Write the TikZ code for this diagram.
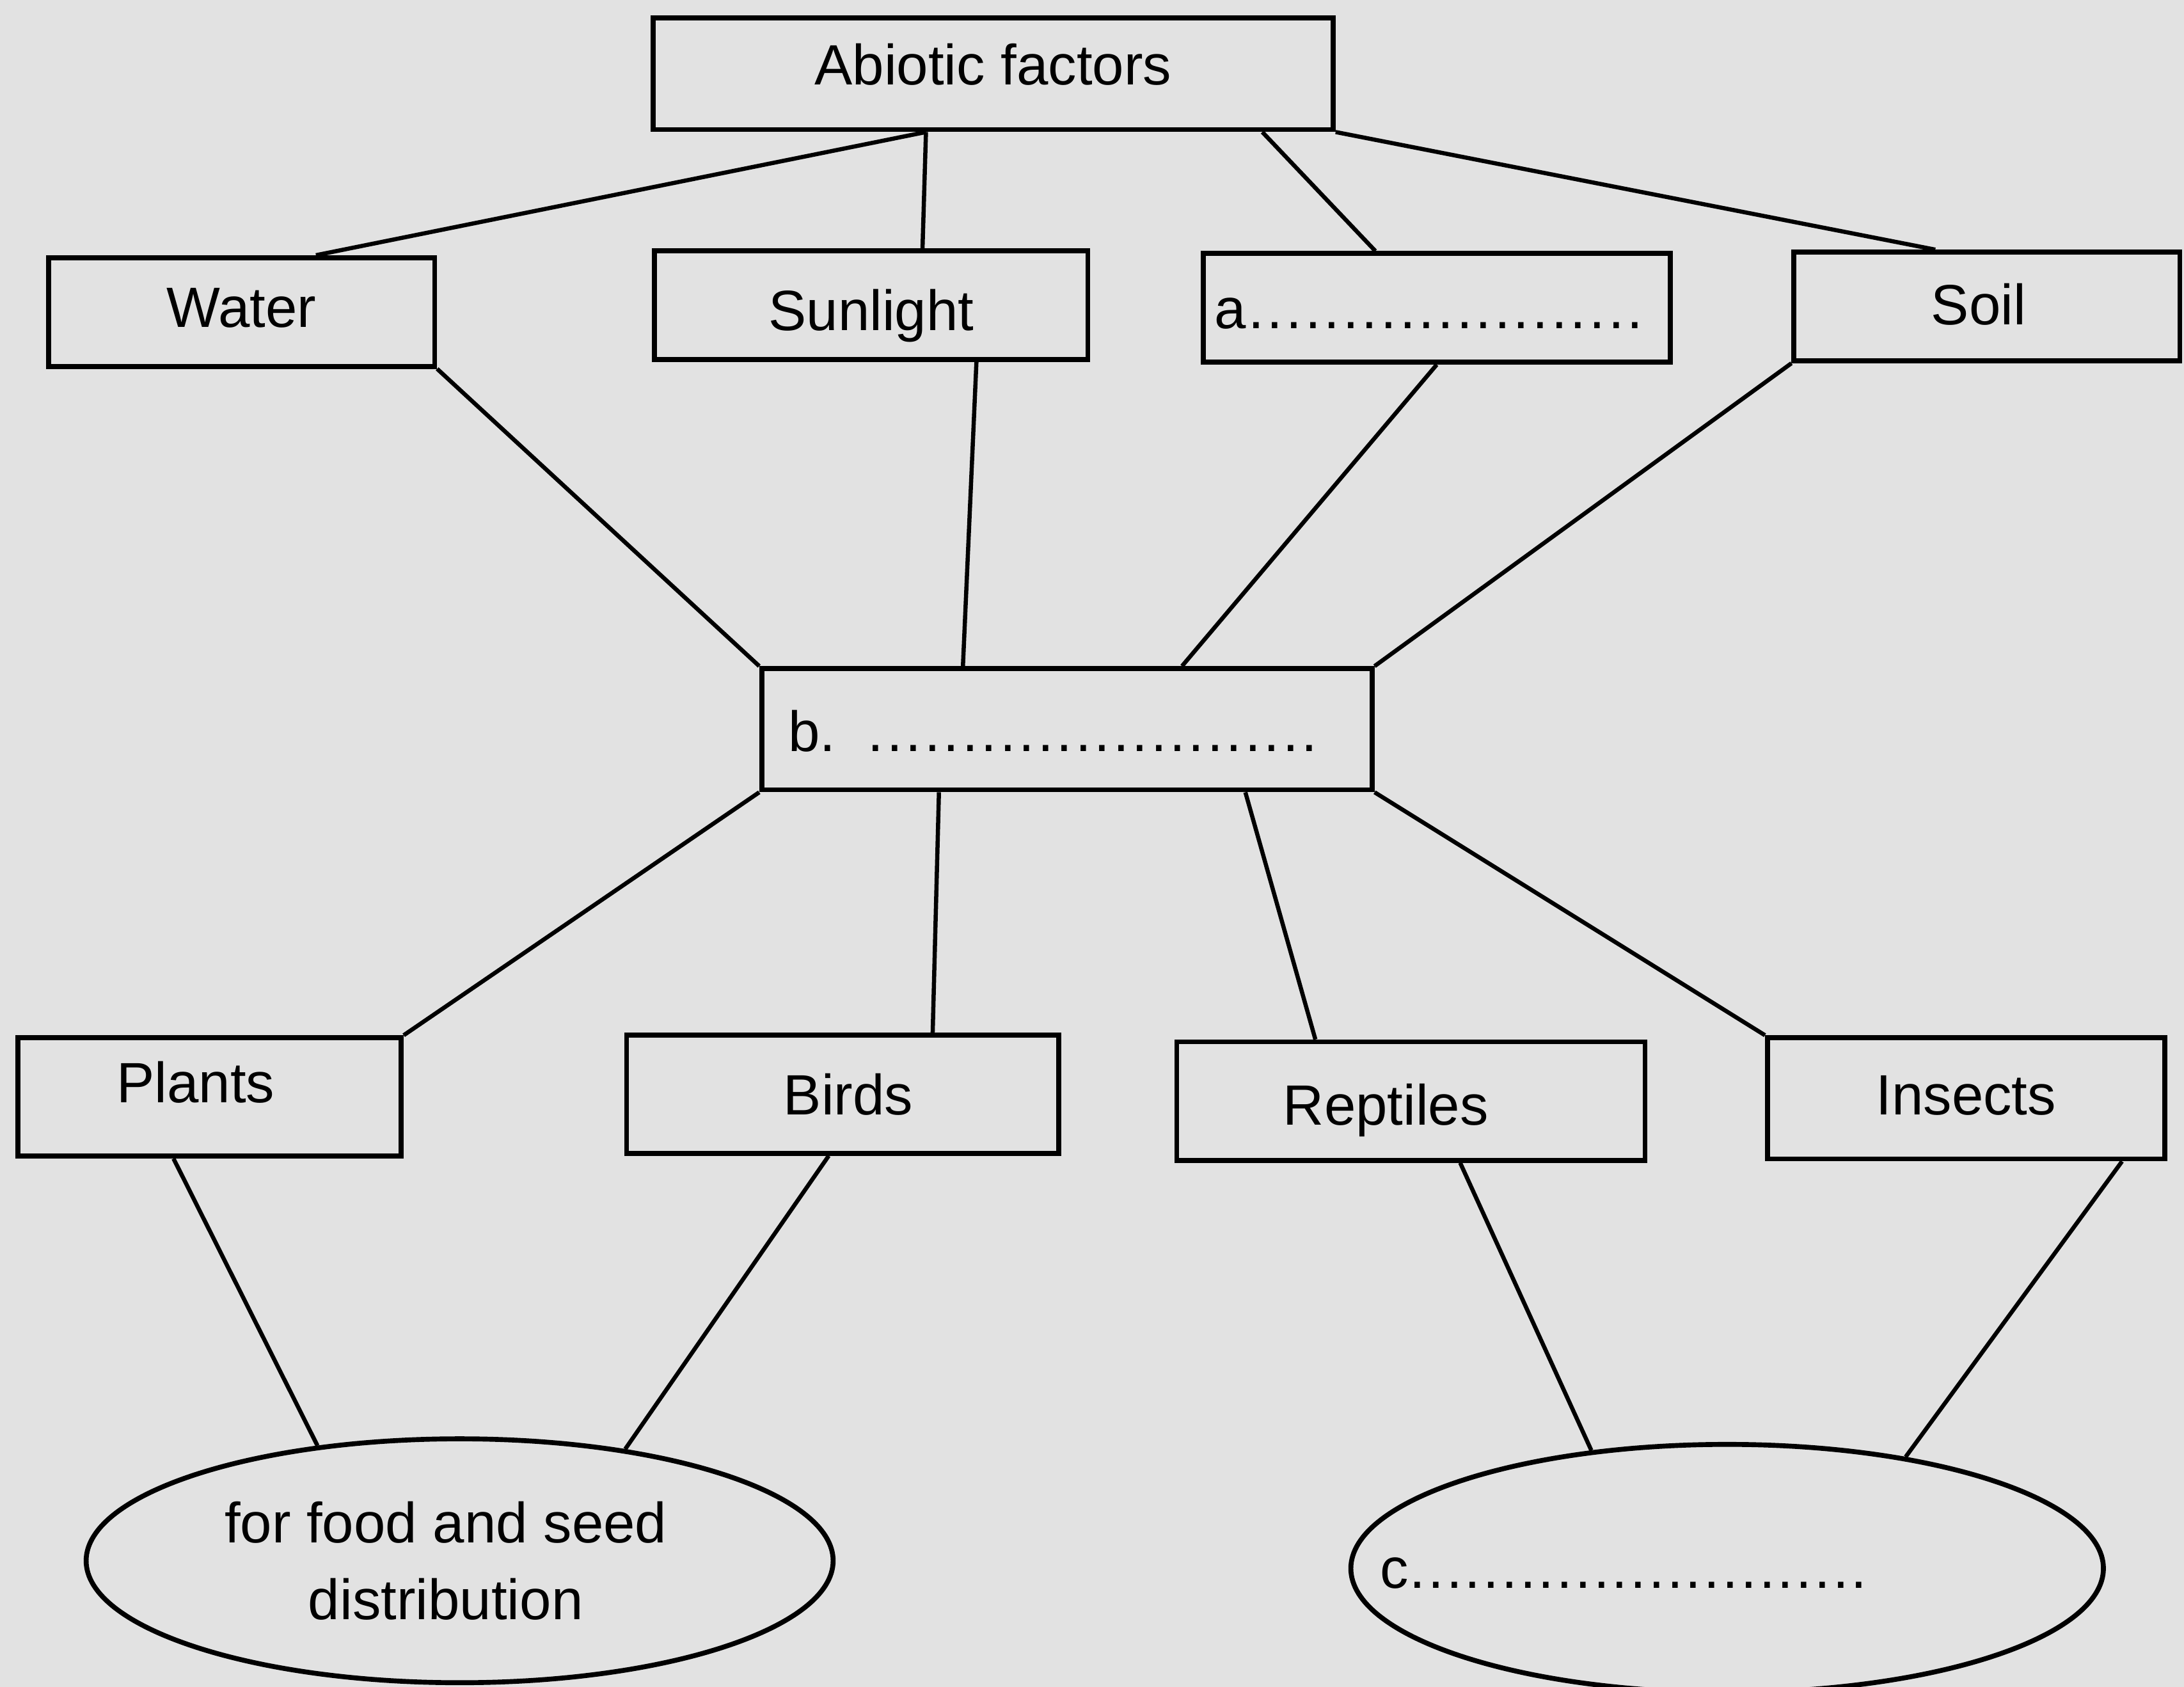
\documentclass[tikz,border=0pt]{standalone}
\usepackage{fontspec}
\setmainfont{Liberation Sans}
\usetikzlibrary{shapes.geometric,calc}
\definecolor{bgcol}{RGB}{226,226,226}
\newcommand{\diagfont}{\fontsize{11.6}{15.65}\selectfont}
\newcommand{\dotrow}[1]{\hbox to #1{\xleaders\hbox to 0.13cm{\hss.\hss}\hfill}}
\begin{document}
\begin{tikzpicture}[x=0.01cm,y=-0.01cm,
  box/.style={draw=black,line width=1pt,rectangle,inner sep=0pt,font=\diagfont,text depth=0pt},
  oval/.style={draw=black,line width=1pt,ellipse,inner sep=0pt,font=\diagfont,align=center},
  link/.style={draw=black,line width=0.85pt}]
\fill[bgcol] (0,0) rectangle (1568,1211);
\useasboundingbox (0,0) rectangle (1568,1211);

% top level
\node[box,minimum width=4.88cm,minimum height=0.80cm,text height=0.16cm] (abiotic) at (713,53) {Abiotic factors};

% abiotic factors
\node[box,minimum width=2.77cm,minimum height=0.78cm,text height=0.22cm] (water) at (173.5,224) {Water};
\node[box,minimum width=3.11cm,minimum height=0.78cm,text height=0.36cm] (sunlight) at (625.5,219) {Sunlight};
\node[box,minimum width=3.35cm,minimum height=0.78cm,text height=0.30cm] (afac) at (1031.5,221) {a\dotrow{2.86cm}\hspace*{0.1cm}\null};
\node[box,minimum width=2.77cm,minimum height=0.78cm,text height=0.26cm] (soil) at (1426.5,220) {Soil\hspace*{0.12cm}\null};

% centre
\node[box,minimum width=4.38cm,minimum height=0.87cm,text height=0.32cm] (bfac) at (766,523.5) {b.\hspace{0.22cm}\dotrow{3.25cm}\hspace*{0.19cm}\null};

% organisms
\node[box,minimum width=2.75cm,minimum height=0.85cm,text height=0.08cm] (plants) at (150.5,787.5) {Plants\hspace*{0.2cm}\null};
\node[box,minimum width=3.10cm,minimum height=0.85cm,text height=0.30cm] (birds) at (605,785.5) {\null\hspace*{0.08cm}Birds};
\node[box,minimum width=3.36cm,minimum height=0.85cm,text height=0.34cm] (reptiles) at (1013,790.5) {Reptiles\hspace*{0.36cm}\null};
\node[box,minimum width=2.85cm,minimum height=0.87cm,text height=0.24cm] (insects) at (1411.5,788.5) {Insects};

% ellipses
\node[oval,minimum width=5.36cm,minimum height=1.75cm] (food) at (330,1120.5) {for food and seed\hspace*{0.2cm}\null\\distribution\hspace*{0.2cm}\null};
\node[oval,minimum width=5.40cm,minimum height=1.78cm] (cfac) at (1240,1126) {};
\node[font=\diagfont,inner sep=0pt,anchor=base west] (ctext) at (990,1140) {c\dotrow{3.3cm}};

% connectors: abiotic -> factors
\draw[link] ($(abiotic.south west)!0.402!(abiotic.south east)$) -- ($(water.north west)!0.69!(water.north east)$);
\draw[link] ($(abiotic.south west)!0.402!(abiotic.south east)$) -- ($(sunlight.north west)!0.617!(sunlight.north east)$);
\draw[link] ($(abiotic.south west)!0.893!(abiotic.south east)$) -- ($(afac.north west)!0.37!(afac.north east)$);
\draw[link] (abiotic.south east) -- ($(soil.north west)!0.368!(soil.north east)$);

% factors -> b
\draw[link] (water.south east) -- (bfac.north west);
\draw[link] ($(sunlight.south west)!0.74!(sunlight.south east)$) -- ($(bfac.north west)!0.331!(bfac.north east)$);
\draw[link] (afac.south) -- ($(bfac.north west)!0.687!(bfac.north east)$);
\draw[link] (soil.south west) -- (bfac.north east);

% b -> organisms
\draw[link] (bfac.south west) -- (plants.north east);
\draw[link] ($(bfac.south west)!0.292!(bfac.south east)$) -- ($(birds.north west)!0.706!(birds.north east)$);
\draw[link] ($(bfac.south west)!0.79!(bfac.south east)$) -- ($(reptiles.north west)!0.298!(reptiles.north east)$);
\draw[link] (bfac.south east) -- (insects.north west);

% organisms -> ellipses
\draw[link] ($(plants.south west)!0.407!(plants.south east)$) -- (food.141.7);
\draw[link] ($(birds.south west)!0.468!(birds.south east)$) -- (food.34.1);
\draw[link] ($(reptiles.south west)!0.604!(reptiles.south east)$) -- (cfac.139.7);
\draw[link] ($(insects.south west)!0.888!(insects.south east)$) -- (cfac.32.8);
\end{tikzpicture}
\end{document}
